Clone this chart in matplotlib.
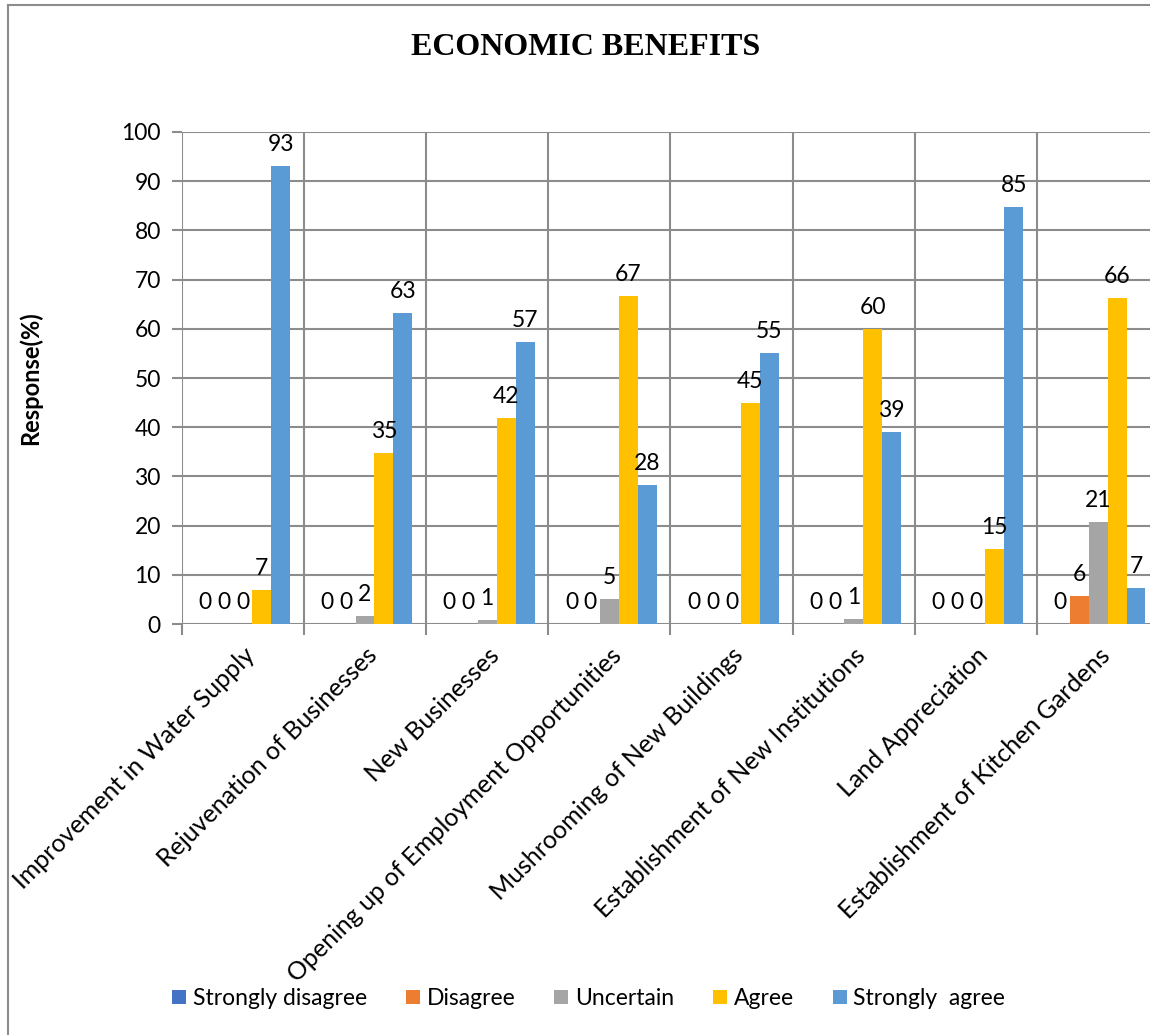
import numpy as np
import matplotlib
matplotlib.use('Agg')
import matplotlib.pyplot as plt
from matplotlib.lines import Line2D

categories = ['Improvement in Water Supply', 'Rejuvenation of Businesses', 'New Businesses',
              'Opening up of Employment Opportunities', 'Mushrooming of New Buildings',
              'Establishment of New Institutions', 'Land Appreciation',
              'Establishment of Kitchen Gardens']
series_names = ['Strongly disagree', 'Disagree', 'Uncertain', 'Agree', 'Strongly  agree']
strongly_disagree = [0, 0, 0, 0, 0, 0, 0, 0]
disagree = [0, 0, 0, 0, 0, 0, 0, 5.7]
uncertain = [0, 1.7, 0.8, 5.0, 0, 1.0, 0, 20.8]
agree = [7.0, 34.8, 41.8, 66.7, 45.0, 60.0, 15.3, 66.2]
strongly_agree = [93.0, 63.2, 57.4, 28.3, 55.0, 39.0, 84.7, 7.3]
series = [strongly_disagree, disagree, uncertain, agree, strongly_agree]
colors = ['#4472C4', '#ED7D31', '#A5A5A5', '#FFC000', '#5B9BD5']

plt.rcParams['font.family'] = ['Lato', 'DejaVu Sans']

fig = plt.figure(figsize=(11.5, 10.35), dpi=100)
ax = fig.add_axes([0.158, 0.397, 0.850, 0.4755])

x = np.arange(len(categories))
bw = 0.155
gc = '#8C8C8C'
for i, (vals, col, name) in enumerate(zip(series, colors, series_names)):
    pos = x + (i - 2) * bw
    ax.bar(pos, vals, bw, color=col, label=name, zorder=3)
    for p, v in zip(pos, vals):
        ax.annotate('%d' % round(v), (p, v), xytext=(0, 8), textcoords='offset points',
                    ha='center', va='bottom', fontsize=16.5, zorder=4)

ax.set_xlim(-0.5, 7.5)
ax.set_ylim(0, 100)
ax.set_yticks(np.arange(0, 101, 10))
ax.tick_params(axis='y', labelsize=16.5, length=7, width=1.5, color=gc, pad=8)
ax.set_xticks(x)
ax.set_xticklabels(categories, rotation=45, ha='right', rotation_mode='anchor', fontsize=18)
ax.tick_params(axis='x', which='major', length=0, pad=14)
ax.set_xticks(np.arange(-0.5, 8, 1), minor=True)
ax.tick_params(axis='x', which='minor', length=8, width=1.5, color=gc)
ax.grid(axis='y', which='major', color=gc, lw=1.5, zorder=0)
ax.grid(axis='x', which='minor', color=gc, lw=1.5, zorder=0)
for s in ax.spines.values():
    s.set_visible(False)

ax.set_ylabel('Response(%)', fontsize=17, fontweight='bold')
ax.yaxis.set_label_coords(-0.143, 0.5)
fig.text(0.509, 0.954, 'ECONOMIC BENEFITS', ha='center', va='center',
         family='Liberation Serif', fontweight='bold', fontsize=23)

fig.legend(loc='center', bbox_to_anchor=(0.512, 0.035), ncol=5, frameon=False,
           fontsize=16.5, handlelength=0.6, handleheight=0.6, handletextpad=0.3,
           columnspacing=1.7)

fig.add_artist(Line2D([0.007, 0.007], [0.0, 0.995], color='#8C8C8C', lw=1.5))
fig.add_artist(Line2D([0.007, 1.0], [0.995, 0.995], color='#8C8C8C', lw=1.5))

plt.savefig('out.png')
